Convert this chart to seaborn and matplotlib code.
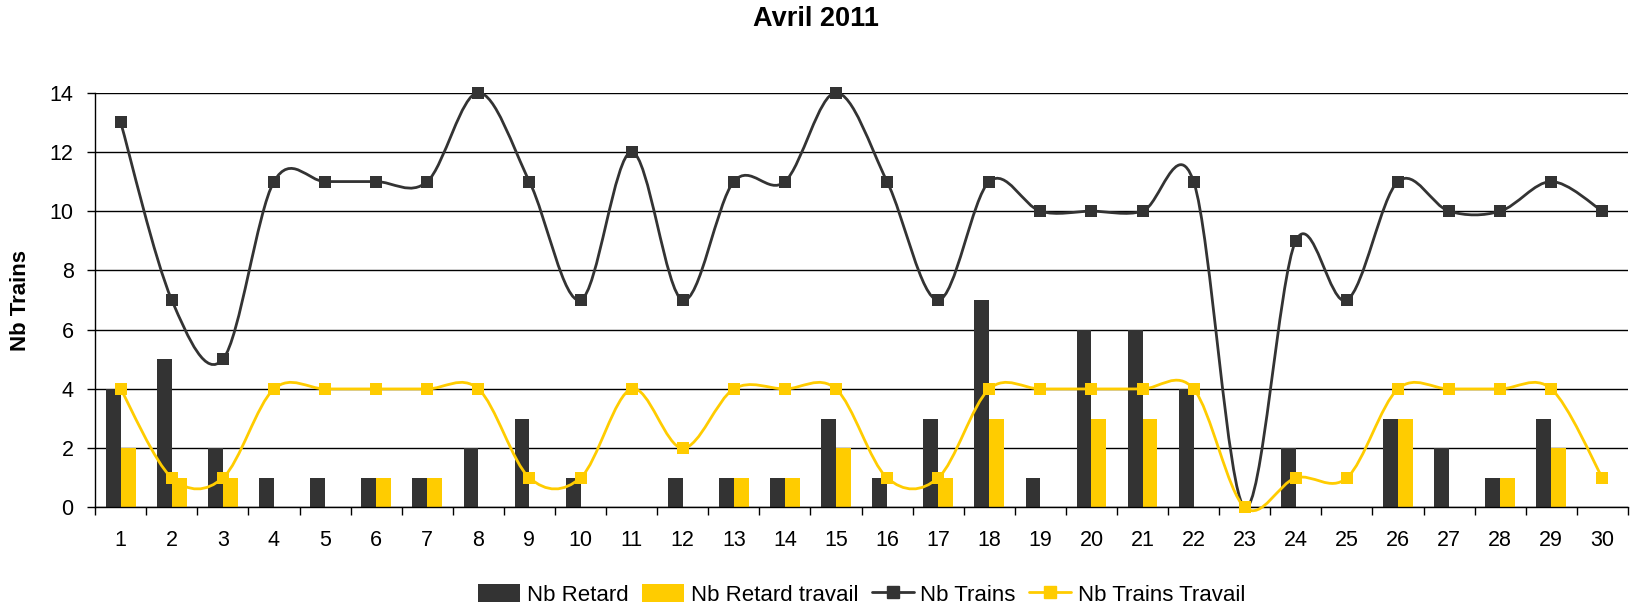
import numpy as np
import pandas as pd
import seaborn as sns
import matplotlib
matplotlib.use("Agg")
import matplotlib.pyplot as plt
from matplotlib.path import Path
from matplotlib.patches import PathPatch, Patch
from matplotlib.lines import Line2D

# Data (Avril 2011)
days = list(range(1, 31))
nb_retard = [4, 5, 2, 1, 1, 1, 1, 2, 3, 1, 0, 1, 1, 1, 3, 1, 3, 7, 1, 6, 6, 4, 0, 2, 0, 3, 2, 1, 3, 0]
nb_retard_travail = [2, 1, 1, 0, 0, 1, 1, 0, 0, 0, 0, 0, 1, 1, 2, 0, 1, 3, 0, 3, 3, 0, 0, 0, 0, 3, 0, 1, 2, 0]
nb_trains = [13, 7, 5, 11, 11, 11, 11, 14, 11, 7, 12, 7, 11, 11, 14, 11, 7, 11, 10, 10, 10, 11, 0, 9, 7, 11, 10, 10, 11, 10]
nb_trains_travail = [4, 1, 1, 4, 4, 4, 4, 4, 1, 1, 4, 2, 4, 4, 4, 1, 1, 4, 4, 4, 4, 4, 0, 1, 1, 4, 4, 4, 4, 1]

dark = "#333333"
yellow = "#FFCC00"

sns.set_theme(style="white")
plt.rcParams['font.family'] = ['Liberation Sans', 'DejaVu Sans']
plt.rcParams['text.color'] = 'black'


def smooth_path(xs, ys):
    # Excel-like smoothed line: cubic bezier with catmull-rom control points
    pts = np.column_stack([xs, ys]).astype(float)
    n = len(pts)
    verts = [pts[0]]
    codes = [Path.MOVETO]
    for i in range(n - 1):
        p0 = pts[i - 1] if i > 0 else pts[i]
        p1 = pts[i]
        p2 = pts[i + 1]
        p3 = pts[i + 2] if i + 2 < n else pts[i + 1]
        c1 = p1 + (p2 - p0) / 6.0
        c2 = p2 - (p3 - p1) / 6.0
        verts += [c1, c2, p2]
        codes += [Path.CURVE4] * 3
    return Path(verts, codes)


pos = np.arange(len(days))
bars = pd.DataFrame({
    "jour": np.tile(pos, 2),
    "valeur": nb_retard + nb_retard_travail,
    "serie": ["Nb Retard"] * len(days) + ["Nb Retard travail"] * len(days),
})

fig = plt.figure(figsize=(16.32, 6.07), dpi=100)
ax = fig.add_axes([0.0583, 0.1640, 0.9392, 0.6833])

sns.barplot(data=bars, x="jour", y="valeur", hue="serie",
            palette=[dark, yellow], width=0.58, gap=0, saturation=1,
            linewidth=0, legend=False, ax=ax, zorder=2)

lw = 2.0
ms = 70
# Nb Trains
ax.add_patch(PathPatch(smooth_path(pos, nb_trains), facecolor="none",
                       edgecolor=dark, lw=lw, zorder=3, clip_on=False))
sns.scatterplot(x=pos, y=nb_trains, marker="s", s=ms, color=dark,
                linewidth=0, ax=ax, zorder=4, clip_on=False)
# Nb Trains Travail
ax.add_patch(PathPatch(smooth_path(pos, nb_trains_travail), facecolor="none",
                       edgecolor=yellow, lw=lw, zorder=5, clip_on=False))
sns.scatterplot(x=pos, y=nb_trains_travail, marker="s", s=ms, color=yellow,
                linewidth=0, ax=ax, zorder=6, clip_on=False)

ax.set_xlim(-0.5, len(days) - 0.5)
ax.set_ylim(0, 14)
ax.set_yticks(range(0, 15, 2))
ax.set_xticks(pos)
ax.set_xticklabels([str(d) for d in days])
ax.set_xticks(np.arange(-0.5, len(days), 1), minor=True)
ax.tick_params(axis="x", which="major", length=0, pad=16, labelsize=15.5, colors="black")
ax.tick_params(axis="x", which="minor", length=6, width=1, direction="out", color="black", bottom=True)
ax.tick_params(axis="y", length=6, width=1, direction="out", pad=9.5, labelsize=15.5, colors="black", left=True)
ax.yaxis.grid(True, color="black", lw=1)
ax.xaxis.grid(False)
ax.set_axisbelow(True)
for s in ["top", "right"]:
    ax.spines[s].set_visible(False)
for s in ["left", "bottom"]:
    ax.spines[s].set_color("black")
    ax.spines[s].set_linewidth(1)

ax.set_xlabel("")
ax.set_ylabel("Nb Trains", fontsize=16, fontweight="bold", color="black")
ax.yaxis.set_label_coords(-0.0416, 0.5)

fig.suptitle("Avril 2011", x=0.5, y=0.968, va="center", fontsize=19.5,
             fontweight="bold", color="black")

handles = [
    Patch(facecolor=dark, edgecolor="none"),
    Patch(facecolor=yellow, edgecolor="none"),
    Line2D([0], [0], color=dark, lw=lw, marker="s", markersize=8.4),
    Line2D([0], [0], color=yellow, lw=lw, marker="s", markersize=8.4),
]
labels = ["Nb Retard", "Nb Retard travail", "Nb Trains", "Nb Trains Travail"]
fig.legend(handles, labels, loc="center", bbox_to_anchor=(0.528, 0.02), ncol=4,
           frameon=False, fontsize=16, handlelength=1.9, handleheight=0.9,
           handletextpad=0.3, columnspacing=0.6)

fig.savefig("out.png", dpi=100)
